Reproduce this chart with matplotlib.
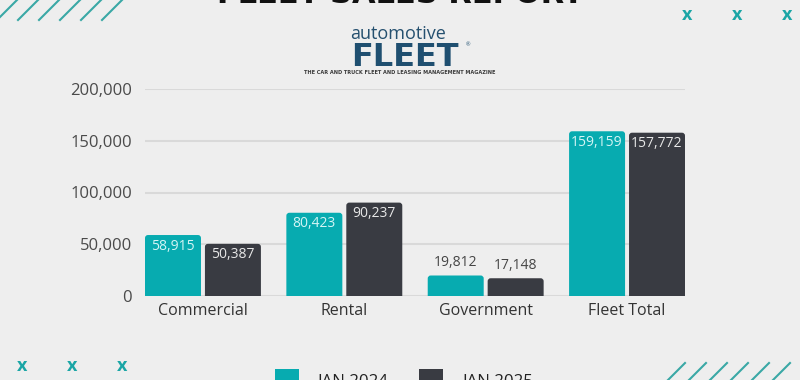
import matplotlib
matplotlib.use('Agg')
import matplotlib.pyplot as plt
import numpy as np
from matplotlib.patches import FancyBboxPatch, Rectangle
from matplotlib.lines import Line2D
from matplotlib.ticker import FuncFormatter

# ---- data ----
categories = ['Commercial', 'Rental', 'Government', 'Fleet Total']
jan_2024 = [58915, 80423, 19812, 159159]
jan_2025 = [50387, 90237, 17148, 157772]
series_labels = ['JAN 2024', 'JAN 2025']
y_ticks = [0, 50000, 100000, 150000, 200000]

BG = '#eeeeee'
TEAL = '#07abb0'
DARK = '#393b42'
DECO = '#3aa8a6'
W, H = 800, 380

plt.rcParams['font.family'] = ['Open Sans', 'DejaVu Sans']

fig = plt.figure(figsize=(8, 3.8), dpi=100, facecolor=BG)


def fx(x):
    return x / W


def fy(y):
    return 1 - y / H


ax = fig.add_axes([fx(145), fy(296), fx(685) - fx(145), (296 - 89) / H])
ax.set_facecolor(BG)
ax.set_xlim(-0.41, 3.41)
ax.set_ylim(0, 200000)

x = np.arange(len(categories))
bw = 0.396
off = 0.212
# rounding of bar top corners (approx 3 px)
rx = 3 / 141.5
asp = (50000 / 51.75) / (1 / 141.5)

series = [(jan_2024, TEAL, -1, '#d4f5f5'), (jan_2025, DARK, 1, '#e8e8e8')]
for vals, color, sign, txtcol in series:
    xs = x + sign * off
    for xi, v in zip(xs, vals):
        y0 = -rx * asp * 2
        p = FancyBboxPatch((xi - bw / 2, y0), bw, v - y0,
                           boxstyle=f"round,pad=0,rounding_size={rx}",
                           mutation_aspect=asp, facecolor=color,
                           edgecolor='none', zorder=3)
        ax.add_patch(p)
        if v > 30000:
            ax.annotate(f'{v:,}', (xi, v), xytext=(0, -8), textcoords='offset points',
                        ha='center', va='center', color=txtcol, fontsize=10, zorder=4)
        else:
            ax.annotate(f'{v:,}', (xi, v), xytext=(0, 9.5), textcoords='offset points',
                        ha='center', va='center', color='#454545', fontsize=10, zorder=4)

ax.set_yticks(y_ticks)
ax.yaxis.set_major_formatter(FuncFormatter(lambda v, p: f'{v:,.0f}'))
ax.set_xticks(x)
ax.set_xticklabels(categories)
ax.tick_params(axis='y', length=0, pad=9.5, labelsize=12, labelcolor='#4a4a4a')
ax.tick_params(axis='x', length=0, pad=5, labelsize=11.5, labelcolor='#333333')
ax.yaxis.grid(True, color='#d9d9d9', lw=1.5, zorder=0)
ax.set_axisbelow(True)
for s in ax.spines.values():
    s.set_visible(False)

# ---- title & logo ----
fig.text(0.5, fy(3), 'FLEET SALES REPORT', ha='center', va='baseline',
         fontsize=22, weight='bold', color='#111111', family=['DejaVu Sans'])
fig.text(fx(398), fy(39), 'automotive', ha='center', va='baseline',
         fontsize=13, color='#25506f')
fig.text(fx(405), fy(66), 'FLEET', ha='center', va='baseline',
         fontsize=23, weight='bold', color='#1f4f70', family=['DejaVu Sans'])
fig.text(fx(468), fy(45), '®', ha='center', va='center', fontsize=4, color='#1f4f70')
fig.text(fx(400), fy(73), 'THE CAR AND TRUCK FLEET AND LEASING MANAGEMENT MAGAZINE',
         ha='center', va='center', fontsize=3.6, weight='bold', color='#3a3a3a',
         family=['DejaVu Sans'])

# ---- decorative x marks ----
for (px_, py_) in [(687, 15), (737, 15), (787, 15), (22, 366), (72, 366), (122, 366)]:
    fig.text(fx(px_), fy(py_), 'x', ha='center', va='center', fontsize=13,
             weight='bold', color='#1ba6a6')

# ---- decorative slashes ----
for xb in [-3, 18, 39, 60, 81, 102]:
    fig.add_artist(Line2D([fx(xb), fx(xb + 24)], [fy(20), fy(-4)],
                          transform=fig.transFigure, color=DECO, lw=1.5))
for xt in [685, 706, 727, 748, 769, 790]:
    fig.add_artist(Line2D([fx(xt), fx(xt - 22)], [fy(363), fy(385)],
                          transform=fig.transFigure, color=DECO, lw=1.5))

# ---- legend (cut at bottom edge) ----
for (lx, tx, col, lab) in [(275, 317, TEAL, series_labels[0]), (419, 462, DARK, series_labels[1])]:
    fig.add_artist(Rectangle((fx(lx), fy(393)), 24 / W, 24 / H,
                             transform=fig.transFigure, facecolor=col, edgecolor='none'))
    fig.text(fx(tx), fy(386), lab, ha='left', va='baseline', fontsize=12.2, color='#222222')

fig.savefig('out.png', dpi=100, facecolor=BG)
